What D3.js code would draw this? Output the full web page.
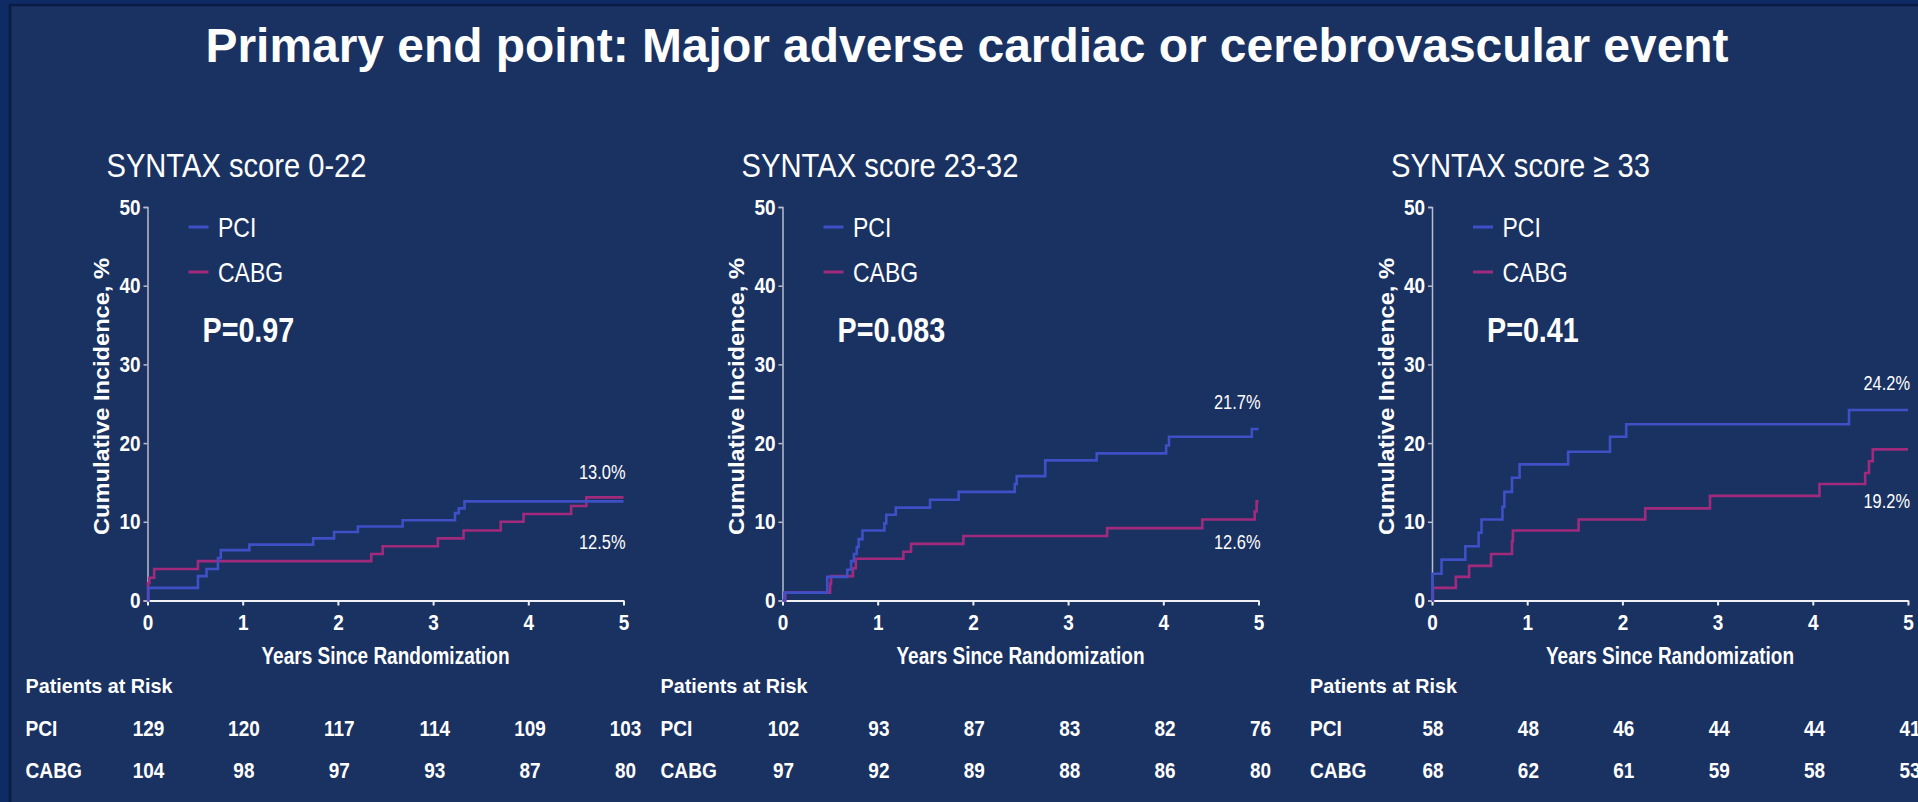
<!DOCTYPE html>
<html>
<head>
<meta charset="utf-8">
<script src="https://cdn.jsdelivr.net/npm/d3@7"></script>
<style>
  body { margin: 0; background: #0f2b66; overflow: hidden; }
  text { font-family: 'Liberation Sans', Arial, sans-serif; fill: #ffffff; }
</style>
</head>
<body>
<svg id="chart" width="1918" height="802"></svg>
<script>
// ---- data ----
var panelTitles = ["SYNTAX score 0-22", "SYNTAX score 23-32", "SYNTAX score \u2265 33"];
var pValues = ["P=0.97", "P=0.083", "P=0.41"];
var yTicks = [0, 10, 20, 30, 40, 50];
var xTicks = [0, 1, 2, 3, 4, 5];
var seriesNames = ["PCI", "CABG"];

// [years, cumulative incidence %]
var pci1 = [[0,0],[0.01,1.6],[0.53,3.1],[0.62,4.0],[0.74,5.4],[0.77,6.4],[1.07,7.1],[1.74,7.9],[1.96,8.7],[2.21,9.4],[2.68,10.2],[3.23,11.1],[3.27,11.7],[3.33,12.6],[5,12.6]];
var cabg1 = [[0,0],[0.005,2.2],[0.02,2.9],[0.07,4.0],[0.53,5.0],[2.35,5.9],[2.47,6.9],[3.05,7.9],[3.32,8.9],[3.71,10.0],[3.95,11.0],[4.45,12.0],[4.61,13.1],[5,13.1]];
var pci2 = [[0,0],[0.02,1.0],[0.47,3.0],[0.68,3.9],[0.72,5.0],[0.75,5.9],[0.78,6.8],[0.80,7.8],[0.84,8.9],[1.07,9.8],[1.09,10.9],[1.19,11.8],[1.55,12.8],[1.85,13.8],[2.44,14.8],[2.46,15.8],[2.76,17.8],[3.30,18.7],[4.03,19.7],[4.06,20.8],[4.93,21.8],[5,21.8]];
var cabg2 = [[0,0],[0.03,1.0],[0.50,2.1],[0.51,3.1],[0.74,4.1],[0.77,5.3],[1.27,6.2],[1.35,7.2],[1.90,8.2],[3.41,9.2],[4.41,10.3],[4.96,11.3],[4.98,12.6],[5,12.6]];
var pci3 = [[0,0],[0.005,3.4],[0.10,5.2],[0.35,6.9],[0.49,8.6],[0.52,10.3],[0.74,11.9],[0.76,13.8],[0.84,15.6],[0.92,17.3],[1.43,18.9],[1.87,20.8],[2.04,22.4],[4.38,24.2],[5,24.2]];
var cabg3 = [[0,0],[0.01,1.6],[0.25,3.0],[0.39,4.4],[0.62,5.9],[0.84,7.5],[0.85,8.9],[1.54,10.3],[2.24,11.7],[2.92,13.3],[4.07,14.8],[4.55,16.2],[4.59,17.7],[4.63,19.2],[5,19.2]];

var endLabels1 = ["13.0%", "12.5%"];
var endLabels2 = ["21.7%", "12.6%"];
var endLabels3 = ["24.2%", "19.2%"];

var riskPci1 = [129, 120, 117, 114, 109, 103];
var riskCabg1 = [104, 98, 97, 93, 87, 80];
var riskPci2 = [102, 93, 87, 83, 82, 76];
var riskCabg2 = [97, 92, 89, 88, 86, 80];
var riskPci3 = [58, 48, 46, 44, 44, 41];
var riskCabg3 = [68, 62, 61, 59, 58, 53];

// ---- layout ----
var width = 1918;
var height = 802;
var colors = { PCI: "#3f4fc6", CABG: "#a12a7d" };
var axisLeft = [147.5, 782.5, 1432];
var plotWidth = 476;
var yTop = 207;
var yBottom = 600.5;
// where the two end labels sit, in y-axis units
var endLabelPos = [[15.4, 6.5], [24.3, 6.5], [26.7, 11.7]];

var panels = [
  { title: panelTitles[0], p: pValues[0], pci: pci1, cabg: cabg1, labels: endLabels1, riskPci: riskPci1, riskCabg: riskCabg1, titleLen: 260 },
  { title: panelTitles[1], p: pValues[1], pci: pci2, cabg: cabg2, labels: endLabels2, riskPci: riskPci2, riskCabg: riskCabg2, titleLen: 277 },
  { title: panelTitles[2], p: pValues[2], pci: pci3, cabg: cabg3, labels: endLabels3, riskPci: riskPci3, riskCabg: riskCabg3, titleLen: 259 }
];

// the slide uses a narrow face; squeeze the regular one to match
function narrow(sel, k) {
  sel.each(function() {
    var w = this.getComputedTextLength();
    d3.select(this).attr("textLength", w * (k || 0.82)).attr("lengthAdjust", "spacingAndGlyphs");
  });
  return sel;
}

var svg = d3.select("#chart");

// slide background
svg.append("rect").attr("width", width).attr("height", height).attr("fill", "#0f2b66");
svg.append("rect").attr("x", 10).attr("y", 5).attr("width", width).attr("height", height)
  .attr("fill", "#1a3262").attr("stroke", "#0b1c44").attr("stroke-width", 2.5);

svg.append("text")
  .attr("x", 967).attr("y", 62)
  .attr("text-anchor", "middle")
  .attr("font-size", 48).attr("font-weight", "bold")
  .attr("textLength", 1523).attr("lengthAdjust", "spacingAndGlyphs")
  .text("Primary end point: Major adverse cardiac or cerebrovascular event");

panels.forEach(function(p, i) {
  var left = axisLeft[i];
  var x = d3.scaleLinear().domain([0, 5]).range([left, left + plotWidth]);
  var y = d3.scaleLinear().domain([0, 50]).range([yBottom, yTop]);
  var g = svg.append("g");

  g.append("text")
    .attr("x", left - 41).attr("y", 177)
    .attr("font-size", 34)
    .attr("textLength", p.titleLen).attr("lengthAdjust", "spacingAndGlyphs")
    .text(p.title);

  // y axis
  var yAxis = g.append("g")
    .attr("transform", "translate(" + left + ",0)")
    .call(d3.axisLeft(y).tickValues(yTicks).tickFormat(d3.format("d")).tickSize(4).tickPadding(3));
  yAxis.select(".domain").attr("stroke", "#b9bdcc").attr("stroke-width", 1.5);
  yAxis.selectAll(".tick line").attr("stroke", "#b9bdcc").attr("stroke-width", 1.5);
  narrow(yAxis.selectAll("text").attr("fill", "#fff").attr("font-size", 22).attr("font-weight", "bold")
    .attr("font-family", "'Liberation Sans', Arial, sans-serif"), 0.86);

  // x axis
  var xAxis = g.append("g")
    .attr("transform", "translate(0," + yBottom + ")")
    .call(d3.axisBottom(x).tickValues(xTicks).tickFormat(d3.format("d")).tickSize(5).tickPadding(9).tickSizeOuter(0));
  xAxis.select(".domain").attr("stroke", "#eef0f6").attr("stroke-width", 2.2);
  xAxis.selectAll(".tick line").attr("stroke", "#eef0f6").attr("stroke-width", 2);
  narrow(xAxis.selectAll("text").attr("fill", "#fff").attr("font-size", 22).attr("font-weight", "bold")
    .attr("font-family", "'Liberation Sans', Arial, sans-serif"), 0.86);

  g.append("text")
    .attr("x", left + plotWidth / 2).attr("y", 664)
    .attr("text-anchor", "middle")
    .attr("font-size", 23).attr("font-weight", "bold")
    .attr("textLength", 248).attr("lengthAdjust", "spacingAndGlyphs")
    .text("Years Since Randomization");

  g.append("text")
    .attr("transform", "translate(" + (left - 38.5) + ",396.5) rotate(-90)")
    .attr("text-anchor", "middle")
    .attr("font-size", 22).attr("font-weight", "bold")
    .attr("textLength", 277).attr("lengthAdjust", "spacingAndGlyphs")
    .text("Cumulative Incidence, %");

  // curves
  var line = d3.line()
    .curve(d3.curveStepAfter)
    .x(function(d) { return x(d[0]); })
    .y(function(d) { return y(d[1]); });

  g.append("path").datum(p.cabg)
    .attr("d", line).attr("fill", "none")
    .attr("stroke", colors.CABG).attr("stroke-width", 2.6);
  g.append("path").datum(p.pci)
    .attr("d", line).attr("fill", "none")
    .attr("stroke", colors.PCI).attr("stroke-width", 2.6);

  // legend
  seriesNames.forEach(function(name, k) {
    var ly = 227 + k * 45;
    g.append("line")
      .attr("x1", left + 41).attr("x2", left + 61)
      .attr("y1", ly).attr("y2", ly)
      .attr("stroke", colors[name]).attr("stroke-width", 3);
    narrow(g.append("text")
      .attr("x", left + 70.5).attr("y", ly + 10)
      .attr("font-size", 28)
      .text(name));
  });

  narrow(g.append("text")
    .attr("x", left + 55).attr("y", 342)
    .attr("font-size", 35).attr("font-weight", "bold")
    .text(p.p));

  // end-of-follow-up percentages
  p.labels.forEach(function(lab, k) {
    narrow(g.append("text")
      .attr("x", x(5) + 2).attr("y", y(endLabelPos[i][k]))
      .attr("text-anchor", "end")
      .attr("font-size", 20)
      .text(lab));
  });

  // patients at risk
  var riskX = d3.scaleLinear().domain([0, 5]).range([left + 1, left + plotWidth + 2]);
  narrow(g.append("text")
    .attr("x", left - 122).attr("y", 693)
    .attr("font-size", 21).attr("font-weight", "bold")
    .text("Patients at Risk"), 0.94);

  [["PCI", p.riskPci, 736], ["CABG", p.riskCabg, 778]].forEach(function(row) {
    narrow(g.append("text")
      .attr("x", left - 122).attr("y", row[2])
      .attr("font-size", 22).attr("font-weight", "bold")
      .text(row[0]), 0.87);
    narrow(g.selectAll(null).data(row[1]).enter().append("text")
      .attr("x", function(d, j) { return riskX(j); })
      .attr("y", row[2])
      .attr("text-anchor", "middle")
      .attr("font-size", 22).attr("font-weight", "bold")
      .text(function(d) { return d; }), 0.86);
  });
});
</script>
</body>
</html>
